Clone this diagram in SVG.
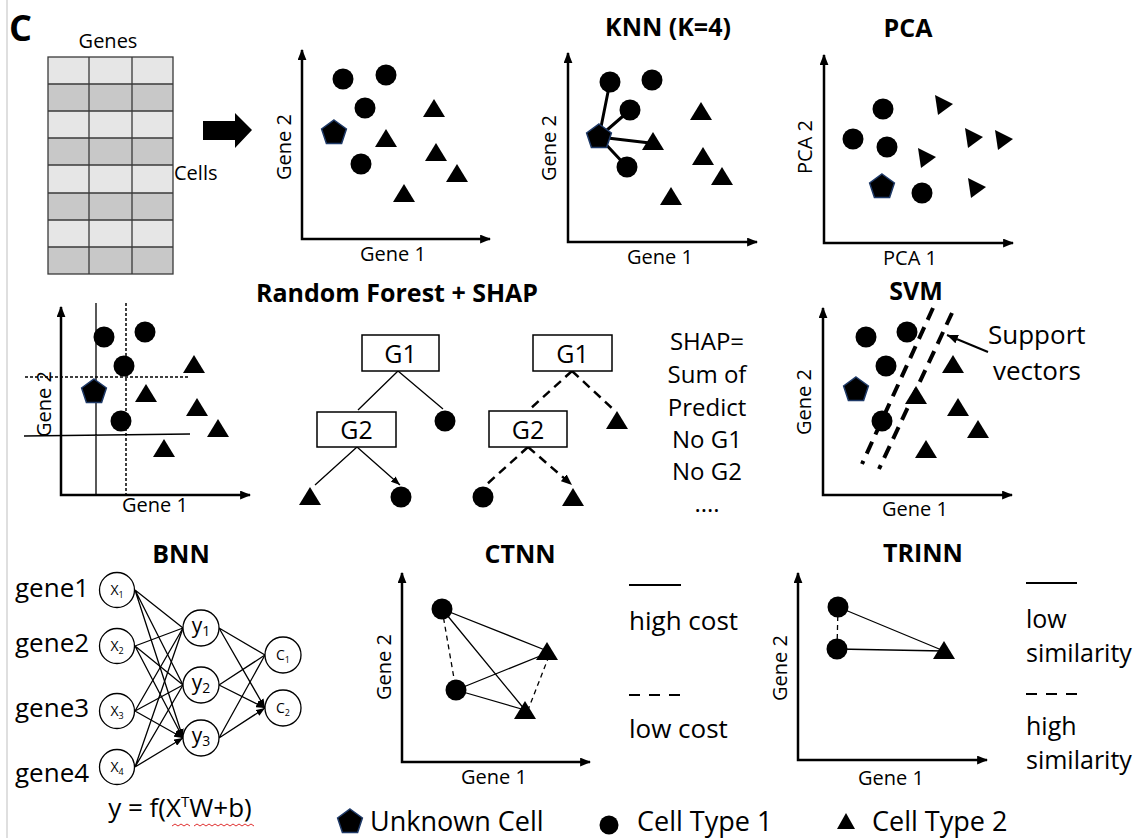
<svg xmlns="http://www.w3.org/2000/svg" xmlns:xlink="http://www.w3.org/1999/xlink" width="1145" height="838" viewBox="0 0 1145 838">
<style>
text{font-family:"Open Sans","Liberation Sans",sans-serif;fill:#000}
.ttl{font-size:25px;font-weight:bold;text-anchor:middle}
.ax{font-size:20px;text-anchor:middle}
.lg{font-size:26px}
.lg2{font-size:25px}
.leg{font-size:27px}
.axis{stroke:#000;stroke-width:2.5;fill:none}
.dot{fill:#000}
.pent{fill:#000;stroke:#1f3a68;stroke-width:1.5}
.tri{fill:#000}
.thin{stroke:#000;stroke-width:1.3;fill:none}
.box{fill:#fff;stroke:#000;stroke-width:1.5}
.nn{fill:#fff;stroke:#000;stroke-width:1.3}
</style>
<defs>
<marker id="axh" viewBox="0 0 10 8" refX="9" refY="4" markerWidth="11" markerHeight="9" markerUnits="userSpaceOnUse" orient="auto-start-reverse"><path d="M0,0 L10,4 L0,8 z" fill="#000"/></marker>
<marker id="sa" viewBox="0 0 9 7" refX="9" refY="3.5" markerWidth="9" markerHeight="7" markerUnits="userSpaceOnUse" orient="auto"><path d="M0,0 L9,3.5 L0,7 z" fill="#000"/></marker>
<marker id="da" viewBox="0 0 11 9" refX="11" refY="4.5" markerWidth="11" markerHeight="9" markerUnits="userSpaceOnUse" orient="auto"><path d="M0,0 L11,4.5 L0,9 z" fill="#000"/></marker>
<circle id="c" r="10.5" class="dot"/>
<path id="p" d="M0,-13 L12.4,-4 L7.6,10.5 L-7.6,10.5 L-12.4,-4 Z" class="pent"/>
<path id="t" d="M0,-10 L-11,8 L11,8 Z" class="tri"/>
<path id="r" d="M-8,-10 L10,-1 L-5,10 Z" class="tri"/>
</defs>
<rect width="1145" height="838" fill="#fff"/>
<line x1="7" y1="0" x2="7" y2="838" stroke="#d4d4d4" stroke-width="1.5"/>

<g id="label-c"><text x="9" y="41" style="font-size:36px;font-weight:bold">C</text></g>

<g id="matrix">
<text x="108" y="48" class="ax">Genes</text>
<rect x="48" y="57" width="125" height="27" fill="#e6e6e6"/>
<rect x="48" y="84" width="125" height="27" fill="#c8c8c8"/>
<rect x="48" y="111" width="125" height="27" fill="#e6e6e6"/>
<rect x="48" y="138" width="125" height="27" fill="#c8c8c8"/>
<rect x="48" y="165" width="125" height="28" fill="#e6e6e6"/>
<rect x="48" y="193" width="125" height="27" fill="#c8c8c8"/>
<rect x="48" y="220" width="125" height="27" fill="#e6e6e6"/>
<rect x="48" y="247" width="125" height="27" fill="#c8c8c8"/>
<path d="M48,84H173M48,111H173M48,138H173M48,165H173M48,193H173M48,220H173M48,247H173M89,57V274M132,57V274" stroke="#3a3a3a" stroke-width="1.3" fill="none"/>
<rect x="48" y="57" width="125" height="217" fill="none" stroke="#3a3a3a" stroke-width="1.3"/>
<text x="174" y="180" style="font-size:20px">Cells</text>
<path d="M203,121 H235 V113 L252,130 L235,148 V140 H203 Z" fill="#000"/>
</g>

<g id="scatter-raw">
<path d="M302,50 V239 H490" class="axis" marker-start="url(#axh)" marker-end="url(#axh)"/>
<text transform="translate(291,147) rotate(-90)" class="ax">Gene 2</text>
<text x="393" y="261" class="ax">Gene 1</text>
<use href="#c" x="343" y="79"/><use href="#c" x="386" y="75"/><use href="#c" x="365" y="108"/><use href="#c" x="361" y="164"/>
<use href="#t" x="434" y="109"/><use href="#t" x="386" y="139"/><use href="#t" x="436" y="153"/><use href="#t" x="457" y="174"/><use href="#t" x="404" y="194"/>
<use href="#p" x="334" y="133"/>
</g>

<g id="knn">
<text x="668" y="36" class="ttl">KNN (K=4)</text>
<path d="M568,53 V242 H757" class="axis" marker-start="url(#axh)" marker-end="url(#axh)"/>
<text transform="translate(556,148) rotate(-90)" class="ax">Gene 2</text>
<text x="660" y="264" class="ax">Gene 1</text>
<path d="M599,137 L610,82 M599,137 L630,110 M599,137 L627,167 M599,137 L650,143" stroke="#000" stroke-width="3" fill="none"/>
<use href="#c" x="610" y="82"/><use href="#c" x="652" y="80"/><use href="#c" x="630" y="110"/><use href="#c" x="627" y="167"/>
<use href="#t" x="701" y="112"/><use href="#t" x="653" y="142"/><use href="#t" x="703" y="157"/><use href="#t" x="722" y="177"/><use href="#t" x="671" y="197"/>
<use href="#p" x="599" y="137"/>
</g>

<g id="pca">
<text x="908" y="37" class="ttl">PCA</text>
<path d="M824,55 V243 H1013" class="axis" marker-start="url(#axh)" marker-end="url(#axh)"/>
<text transform="translate(812,147) rotate(-90)" class="ax">PCA 2</text>
<text x="910" y="265" class="ax">PCA 1</text>
<use href="#c" x="883" y="109"/><use href="#c" x="853" y="139"/><use href="#c" x="887" y="147"/><use href="#c" x="922" y="193"/>
<use href="#r" x="943" y="105"/><use href="#r" x="973" y="138"/><use href="#r" x="1003" y="140"/><use href="#r" x="926" y="158"/><use href="#r" x="976" y="188"/>
<use href="#p" x="882" y="187"/>
</g>

<g id="rf-scatter">
<path d="M61,307 V495 H250" class="axis" marker-start="url(#axh)" marker-end="url(#axh)"/>
<path d="M96,303 V495 M24,436 L190,434" stroke="#000" stroke-width="1.3" fill="none"/>
<path d="M126,303 V495 M25,377 H190" stroke="#000" stroke-width="1.5" stroke-dasharray="3,2" fill="none"/>
<text transform="translate(51,404) rotate(-90)" class="ax">Gene 2</text>
<text x="155" y="512" class="ax">Gene 1</text>
<use href="#c" x="104" y="337"/><use href="#c" x="145" y="332"/><use href="#c" x="124" y="366"/><use href="#c" x="121" y="421"/>
<use href="#t" x="194" y="365"/><use href="#t" x="146" y="394"/><use href="#t" x="197" y="408"/><use href="#t" x="218" y="429"/><use href="#t" x="164" y="449"/>
<use href="#p" x="94" y="392"/>
</g>

<g id="rf-trees">
<text x="397" y="302" class="ttl">Random Forest + SHAP</text>
<g id="tree1">
<path d="M398,371 L358,410 M398,371 L443,409 M357,447 L315,485 M357,447 L400,485" class="thin" marker-end="url(#sa)"/>
<rect x="362" y="335" width="77" height="36" class="box"/>
<text x="400.5" y="363" style="font-size:25px;text-anchor:middle">G1</text>
<rect x="317" y="412" width="79" height="35" class="box"/>
<text x="356.5" y="439" style="font-size:25px;text-anchor:middle">G2</text>
<use href="#c" x="445" y="421"/>
<use href="#t" x="310" y="497"/>
<use href="#c" x="401" y="497"/>
</g>
<g id="tree2">
<path d="M572,371 L530,409 M572,371 L614,410 M528,447 L486,485 M528,447 L572,485" stroke="#000" stroke-width="2.5" stroke-dasharray="9,6" fill="none" marker-end="url(#da)"/>
<rect x="533" y="335" width="79" height="36" class="box"/>
<text x="572.5" y="363" style="font-size:25px;text-anchor:middle">G1</text>
<rect x="489" y="411" width="78" height="36" class="box"/>
<text x="528" y="439" style="font-size:25px;text-anchor:middle">G2</text>
<use href="#t" x="617" y="421"/>
<use href="#c" x="483" y="497"/>
<use href="#t" x="573" y="498"/>
</g>
<g id="shap-text" style="font-size:24px;text-anchor:middle">
<text x="707" y="350">SHAP=</text>
<text x="707" y="383">Sum of</text>
<text x="707" y="416">Predict</text>
<text x="707" y="448">No G1</text>
<text x="707" y="480">No G2</text>
<text x="707" y="512">....</text>
</g>
</g>

<g id="svm">
<text x="916" y="300" class="ttl">SVM</text>
<path d="M823,308 V495 H1012" class="axis" marker-start="url(#axh)" marker-end="url(#axh)"/>
<text transform="translate(811,402) rotate(-90)" class="ax">Gene 2</text>
<text x="915" y="516" class="ax">Gene 1</text>
<use href="#c" x="866" y="337"/><use href="#c" x="907" y="332"/><use href="#c" x="886" y="366"/><use href="#c" x="882" y="421"/>
<use href="#t" x="953" y="365"/><use href="#t" x="916" y="396"/><use href="#t" x="958" y="408"/><use href="#t" x="978" y="430"/><use href="#t" x="926" y="450"/>
<use href="#p" x="856" y="390"/>
<path d="M933,308 L862,464 M952,313 L879,469" stroke="#000" stroke-width="4" stroke-dasharray="13,8" fill="none"/>
<path d="M988,352 L947,335" stroke="#000" stroke-width="2" fill="none" marker-end="url(#da)"/>
<text x="988" y="344" class="lg">Support</text>
<text x="993" y="380" class="lg">vectors</text>
</g>

<g id="bnn">
<text x="181" y="563" class="ttl">BNN</text>
<g style="font-size:26px">
<text x="15" y="597">gene1</text>
<text x="15" y="652">gene2</text>
<text x="15" y="717">gene3</text>
<text x="15" y="782">gene4</text>
</g>
<g id="bnn-edges" class="thin" marker-end="url(#sa)">
<path d="M135,590 L183,628 M135,590 L183,685 M135,590 L183,738"/>
<path d="M135,646 L183,628 M135,646 L183,685 M135,646 L183,738"/>
<path d="M135,711 L183,628 M135,711 L183,685 M135,711 L183,738"/>
<path d="M135,767 L183,628 M135,767 L183,685 M135,767 L183,738"/>
<path d="M219,628 L265,655 M219,628 L265,708"/>
<path d="M219,685 L265,655 M219,685 L265,708"/>
<path d="M219,738 L265,655 M219,738 L265,708"/>
</g>
<g id="bnn-x1"><circle cx="117" cy="590" r="17.5" class="nn"/><text x="117" y="595" style="font-size:14px;text-anchor:middle">X<tspan dy="3" style="font-size:9px">1</tspan></text></g>
<g id="bnn-x2"><circle cx="117" cy="646" r="17.5" class="nn"/><text x="117" y="651" style="font-size:14px;text-anchor:middle">X<tspan dy="3" style="font-size:9px">2</tspan></text></g>
<g id="bnn-x3"><circle cx="117" cy="711" r="17.5" class="nn"/><text x="117" y="716" style="font-size:14px;text-anchor:middle">X<tspan dy="3" style="font-size:9px">3</tspan></text></g>
<g id="bnn-x4"><circle cx="117" cy="767" r="17.5" class="nn"/><text x="117" y="772" style="font-size:14px;text-anchor:middle">X<tspan dy="3" style="font-size:9px">4</tspan></text></g>
<g id="bnn-y1"><circle cx="201" cy="628" r="18" class="nn"/><text x="201" y="633" style="font-size:21px;text-anchor:middle">y<tspan dy="3" style="font-size:14px">1</tspan></text></g>
<g id="bnn-y2"><circle cx="201" cy="685" r="18" class="nn"/><text x="201" y="690" style="font-size:21px;text-anchor:middle">y<tspan dy="3" style="font-size:14px">2</tspan></text></g>
<g id="bnn-y3"><circle cx="201" cy="738" r="18" class="nn"/><text x="201" y="743" style="font-size:21px;text-anchor:middle">y<tspan dy="3" style="font-size:14px">3</tspan></text></g>
<g id="bnn-c1"><circle cx="283" cy="655" r="18" class="nn"/><text x="283" y="660" style="font-size:14px;text-anchor:middle">C<tspan dy="3" style="font-size:9px">1</tspan></text></g>
<g id="bnn-c2"><circle cx="283" cy="708" r="18" class="nn"/><text x="283" y="713" style="font-size:14px;text-anchor:middle">C<tspan dy="3" style="font-size:9px">2</tspan></text></g>
<text x="180" y="817" style="font-size:26px;text-anchor:middle">y = f(X<tspan dy="-10" style="font-size:15px">T</tspan><tspan dy="10">W+b)</tspan></text>
<polyline points="172,826 175,824 178,826 181,824 184,826 187,824 190,826" fill="none" stroke="#e03030" stroke-width="1"/>
<polyline points="194,826 197,824 200,826 203,824 206,826 209,824 212,826 215,824 218,826 221,824 224,826 227,824 230,826 233,824 236,826 239,824 242,826 245,824 248,826 251,824 254,826" fill="none" stroke="#e03030" stroke-width="1"/>
</g>

<g id="ctnn">
<text x="520" y="563" class="ttl">CTNN</text>
<path d="M402,573 V762 H590" class="axis" marker-start="url(#axh)" marker-end="url(#axh)"/>
<text transform="translate(391,667) rotate(-90)" class="ax">Gene 2</text>
<text x="494" y="784" class="ax">Gene 1</text>
<path d="M442,609 L550,652 M442,609 L525,710 M456,690 L550,652 M456,690 L525,710" class="thin"/>
<path d="M442,609 L456,690 M549,656 L528,710" stroke="#000" stroke-width="1.3" stroke-dasharray="5,4" fill="none"/>
<use href="#c" x="442" y="609"/><use href="#c" x="456" y="690"/>
<use href="#t" x="547" y="652"/><use href="#t" x="525" y="711"/>
<path d="M629,585 H681" stroke="#000" stroke-width="2"/>
<path d="M629,695 H681" stroke="#000" stroke-width="2" stroke-dasharray="11,9"/>
<text x="629" y="630" class="lg">high cost</text>
<text x="629" y="738" class="lg">low cost</text>
</g>

<g id="trinn">
<text x="923" y="562" class="ttl">TRINN</text>
<path d="M798,573 V760 H987" class="axis" marker-start="url(#axh)" marker-end="url(#axh)"/>
<text transform="translate(787,668) rotate(-90)" class="ax">Gene 2</text>
<text x="891" y="785" class="ax">Gene 1</text>
<path d="M838,607 L944,651 M837,649 L944,651" class="thin"/>
<path d="M838,607 L837,649" stroke="#000" stroke-width="1.3" stroke-dasharray="5,4" fill="none"/>
<use href="#c" x="838" y="607"/><use href="#c" x="837" y="649"/>
<use href="#t" x="944" y="651"/>
<path d="M1026,583 H1077" stroke="#000" stroke-width="2"/>
<path d="M1026,694 H1077" stroke="#000" stroke-width="2" stroke-dasharray="11,9"/>
<text x="1026" y="628" class="lg2">low</text>
<text x="1026" y="662" class="lg2">similarity</text>
<text x="1026" y="735" class="lg2">high</text>
<text x="1026" y="769" class="lg2">similarity</text>
</g>

<g id="legend">
<use href="#p" x="350" y="822"/>
<text x="370" y="831" class="leg">Unknown Cell</text>
<circle cx="609" cy="825" r="9.5" class="dot"/>
<text x="637" y="831" class="leg">Cell Type 1</text>
<path d="M846,813 L837,829 L855,829 Z" class="tri"/>
<text x="872" y="831" class="leg">Cell Type 2</text>
</g>
</svg>
